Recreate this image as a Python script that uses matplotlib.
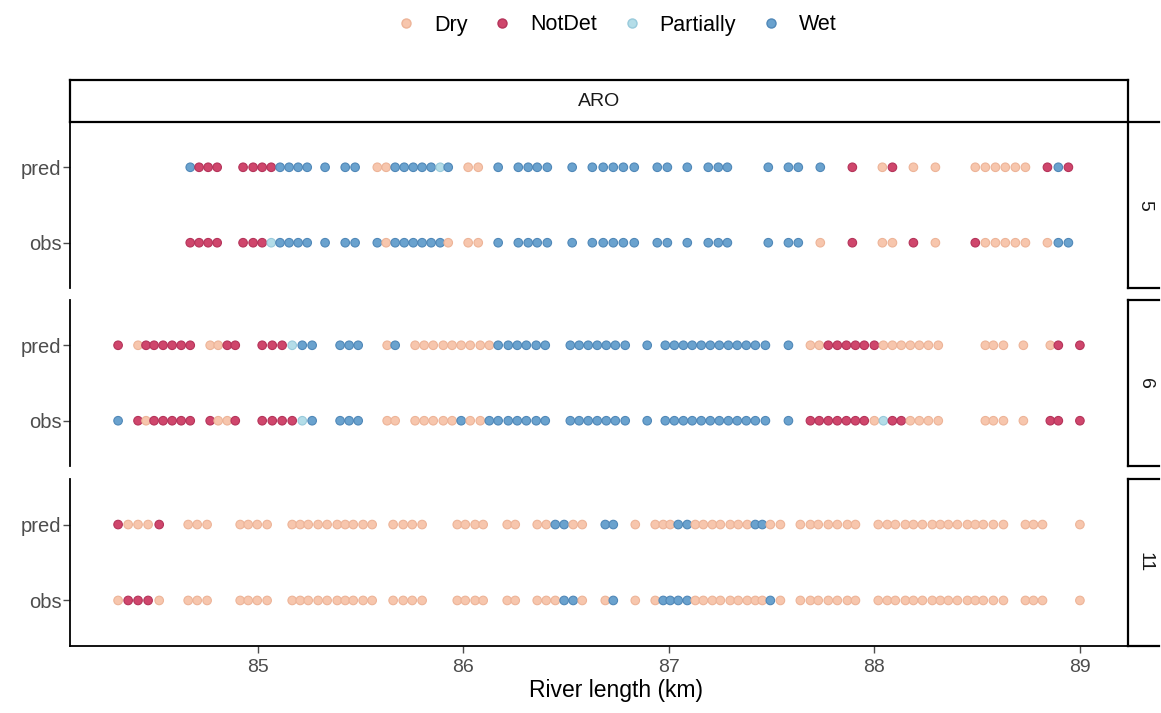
import matplotlib
matplotlib.use("Agg")
import matplotlib.pyplot as plt
from matplotlib.lines import Line2D

plt.rcParams['font.family'] = ['Liberation Sans', 'DejaVu Sans']

# states and colours
states = ['Dry', 'NotDet', 'Partially', 'Wet']
codes = {'D': 'Dry', 'N': 'NotDet', 'P': 'Partially', 'W': 'Wet'}
fill = {'Dry': '#F7C6AD', 'NotDet': '#CF466C', 'Partially': '#B4DDE8', 'Wet': '#6AA2CE'}
edge = {'Dry': '#EDB498', 'NotDet': '#B5345A', 'Partially': '#98CADB', 'Wet': '#5088B8'}

dates = ['5', '6', '11']

# river km of each site, per date
km_5 = [84.672, 84.715, 84.759, 84.803, 84.929, 84.978, 85.022, 85.066, 85.109, 85.153,
        85.197, 85.241, 85.328, 85.426, 85.474, 85.582, 85.625, 85.669, 85.713, 85.757,
        85.800, 85.844, 85.888, 85.927, 86.024, 86.073, 86.170, 86.268, 86.316, 86.360,
        86.409, 86.530, 86.628, 86.681, 86.730, 86.779, 86.832, 86.944, 86.993, 87.090,
        87.192, 87.241, 87.285, 87.484, 87.582, 87.630, 87.737, 87.893, 88.039, 88.088,
        88.190, 88.297, 88.491, 88.540, 88.589, 88.637, 88.686, 88.735, 88.842, 88.895,
        88.944]
km_6 = [84.321, 84.418, 84.457, 84.496, 84.540, 84.584, 84.628, 84.672, 84.769, 84.808,
        84.852, 84.891, 85.022, 85.071, 85.119, 85.168, 85.217, 85.265, 85.401, 85.445,
        85.489, 85.630, 85.669, 85.766, 85.810, 85.854, 85.903, 85.946, 85.990, 86.034,
        86.083, 86.127, 86.170, 86.219, 86.263, 86.307, 86.355, 86.399, 86.521, 86.564,
        86.608, 86.652, 86.696, 86.740, 86.788, 86.895, 86.983, 87.027, 87.071, 87.114,
        87.158, 87.202, 87.246, 87.290, 87.333, 87.377, 87.421, 87.470, 87.582, 87.689,
        87.732, 87.776, 87.820, 87.864, 87.908, 87.951, 88.000, 88.044, 88.088, 88.131,
        88.175, 88.219, 88.263, 88.311, 88.540, 88.579, 88.628, 88.725, 88.856, 88.895,
        89.000]
km_11 = [84.321, 84.370, 84.418, 84.467, 84.521, 84.662, 84.706, 84.754, 84.915, 84.954,
         84.998, 85.046, 85.168, 85.207, 85.246, 85.294, 85.338, 85.387, 85.426, 85.465,
         85.513, 85.557, 85.659, 85.708, 85.752, 85.800, 85.971, 86.010, 86.058, 86.097,
         86.214, 86.253, 86.360, 86.404, 86.448, 86.491, 86.535, 86.579, 86.691, 86.730,
         86.837, 86.934, 86.973, 87.007, 87.046, 87.090, 87.129, 87.168, 87.212, 87.251,
         87.299, 87.338, 87.382, 87.421, 87.455, 87.494, 87.543, 87.640, 87.689, 87.727,
         87.776, 87.820, 87.869, 87.908, 88.019, 88.063, 88.102, 88.151, 88.190, 88.234,
         88.282, 88.321, 88.360, 88.404, 88.453, 88.491, 88.530, 88.579, 88.628, 88.735,
         88.774, 88.818, 89.000]

# state codes (D=Dry, N=NotDet, P=Partially, W=Wet), one per site
obs_5 = ("NNNN NNNPWWWW W WW WDWWWWWWD DD W WWWW W WWWWW WW W WWW W WW D N DD N D "
         "NDDDDD DWW")
pred_5 = ("WNNN NNNNWWWW W WW DDWWWWWPW DD W WWWW W WWWWW WW W WWW W WW W N DN D D "
          "DDDDDD NWN")
obs_6 = ("W NDNNNNN NDDN NNNNPW WWW DD DDDDDWDDWWWWWWW WWWWWWW W WWWWWWWWWWWW W "
         "NNNNNNNDPNNDDDD DDD D NNN")
pred_6 = ("N DNNNNNN DDNN NNNPWW WWW DW DDDDDDDDDWWWWWW WWWWWWW W WWWWWWWWWWWW W "
          "DDNNNNNNDDDDDDD DDD D DNN")
obs_11 = ("DNNND DDD DDDD DDDDDDDDDD DDDD DDDD DD DDDWWD DW D DWWWWDDDDDDDDDWD "
          "DDDDDDD DDDDDDDDDDDDDDD DDD D")
pred_11 = ("NDDDN DDD DDDD DDDDDDDDDD DDDD DDDD DD DDWWDD WW D DDDWWDDDDDDDWWDD "
           "DDDDDDD DDDDDDDDDDDDDDD DDD D")

km = {'5': km_5, '6': km_6, '11': km_11}
obs = {'5': obs_5, '6': obs_6, '11': obs_11}
pred = {'5': pred_5, '6': pred_6, '11': pred_11}

W, H = 1161, 713
fig = plt.figure(figsize=(W / 100, H / 100), dpi=100)

left, right = 70, 1128
rows = [(122, 288), (300, 466), (479, 646)]

all_km = km_5 + km_6 + km_11
lo, hi = min(all_km), max(all_km)
pad = 0.05 * (hi - lo)
xlim = (lo - pad, hi + pad)

grey = '#4D4D4D'
for i, d in enumerate(dates):
    top, bot = rows[i]
    ax = fig.add_axes([left / W, 1 - bot / H, (right - left) / W, (bot - top) / H])
    for yv, s in [(0, obs[d]), (1, pred[d])]:
        st = [codes[c] for c in s.replace(' ', '')]
        ax.scatter(km[d], [yv] * len(st), s=38, c=[fill[x] for x in st],
                   edgecolors=[edge[x] for x in st], linewidths=0.8, zorder=3)
    ax.set_xlim(xlim)
    ax.set_ylim(-0.6, 1.6)
    ax.set_yticks([0, 1])
    ax.set_yticklabels(['obs', 'pred'])
    ax.set_xticks([85, 86, 87, 88, 89])
    ax.tick_params(axis='y', length=5, width=1, color=grey, labelcolor=grey,
                   labelsize=14.5, pad=1)
    ax.tick_params(axis='x', length=5, width=1, color=grey, labelcolor=grey,
                   labelsize=14, pad=4)
    for sp in ['top', 'right']:
        ax.spines[sp].set_visible(False)
    ax.spines['left'].set_linewidth(1.3)
    ax.spines['bottom'].set_linewidth(1.3)
    if i < 2:
        ax.spines['bottom'].set_visible(False)
        ax.tick_params(axis='x', bottom=False, labelbottom=False)

    # right-hand strip
    sx = fig.add_axes([right / W, 1 - bot / H, 31 / W, (bot - top) / H])
    sx.set_xticks([])
    sx.set_yticks([])
    sx.patch.set_facecolor('white')
    for sp in sx.spines.values():
        sp.set_linewidth(1.6)
    sx.spines['right'].set_visible(False)
    sx.text(0.55, 0.5, d, rotation=270, ha='center', va='center', fontsize=14,
            color='#1A1A1A', transform=sx.transAxes)

fig.text(616 / W, 1 - 690 / H, 'River length (km)', ha='center', va='center',
         fontsize=16.5)

# top strip
tx = fig.add_axes([left / W, 1 - 122 / H, (right - left) / W, 42 / H])
tx.set_xticks([])
tx.set_yticks([])
for sp in tx.spines.values():
    sp.set_linewidth(1.6)
tx.text(0.5, 0.5, 'ARO', ha='center', va='center', fontsize=14, color='#1A1A1A',
        transform=tx.transAxes)

# legend
handles = [Line2D([], [], marker='o', linestyle='', markersize=6.5,
                  markerfacecolor=fill[s], markeredgecolor=edge[s], label=s)
           for s in states]
fig.legend(handles=handles, loc='center', bbox_to_anchor=(616 / W, 1 - 25 / H), ncol=4,
           frameon=False, fontsize=15.5, handlelength=1.0, handletextpad=0.8,
           columnspacing=1.1)

fig.savefig('out.png', dpi=100)
